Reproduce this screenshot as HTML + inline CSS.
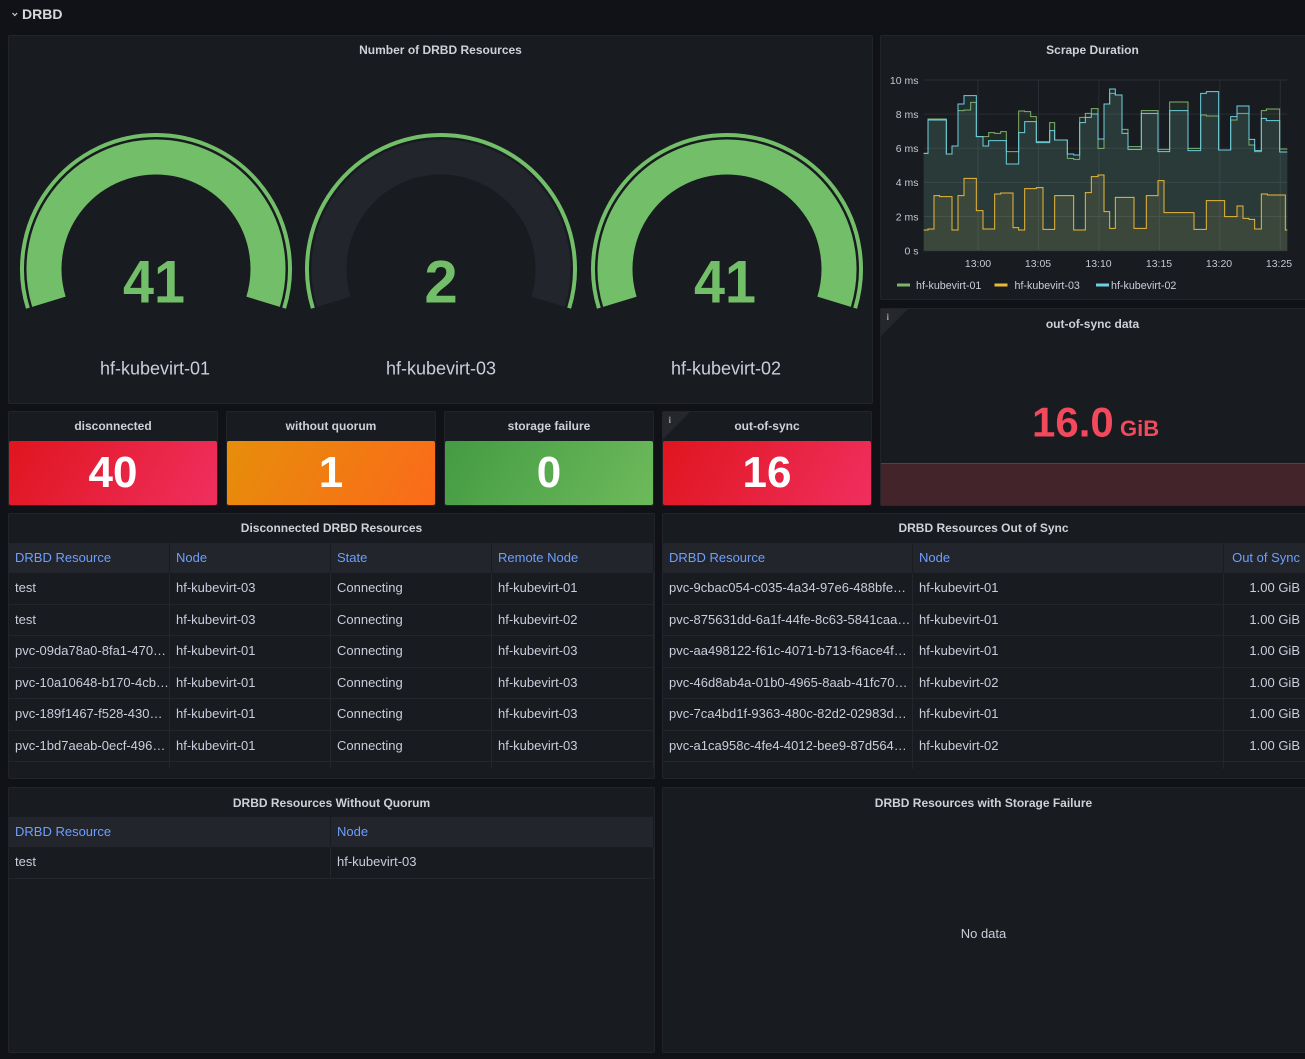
<!DOCTYPE html>
<html><head><meta charset="utf-8">
<style>
*{box-sizing:border-box;margin:0;padding:0}
html,body{width:1305px;height:1059px;overflow:hidden;background:#111217;font-family:"Liberation Sans",sans-serif;color:#ccccdc}
.p{position:absolute;background:#181b1f;border:1px solid #222429;border-radius:2px;overflow:hidden}
.t{position:absolute;left:0;right:0;top:6px;height:16px;line-height:16px;text-align:center;font-size:12px;font-weight:bold;color:#d0d1d8;white-space:nowrap}
.sb{position:absolute;left:0;right:0;top:29px;height:64px;border-radius:2px;color:#fff;font-weight:bold;font-size:44px;line-height:64px;text-align:center}
.tb{position:absolute;left:0;top:29px;right:0}
.h{display:flex;height:30px;background:#22252b}
.h div{color:#6e9fff;font-size:13px;line-height:30px;padding-left:6px;border-right:1px solid #181b1f;white-space:nowrap;overflow:hidden}
.r{display:flex;height:31.5px;border-bottom:1px solid #24262c}
.r div,.e div{font-size:13px;line-height:30.5px;padding-left:6px;border-right:1px solid #24262c;white-space:nowrap;overflow:hidden;text-overflow:ellipsis}
.e{display:flex;height:7px}
.c1{width:161px;flex:none}
.c4{flex:1}
.o1{width:250px;flex:none}
.o2{width:311px;flex:none}
.o3{flex:1;text-align:right;padding-right:8px!important;padding-left:0!important}
.q1{width:322px;flex:none}
svg{position:absolute;left:0;top:0}
</style></head><body>

<!-- Panels -->
<div class="p" style="left:8px;top:35px;width:865px;height:369px"><div class="t">Number of DRBD Resources</div></div>
<div class="p" style="left:880px;top:35px;width:430px;height:265px"><div class="t" style="right:5px">Scrape Duration</div></div>
<div class="p" style="left:880px;top:308px;width:430px;height:198px"><div class="t" style="right:5px;top:7px">out-of-sync data</div></div>

<div class="p" style="left:8px;top:411px;width:210px;height:95px"><div class="t">disconnected</div><div class="sb" style="background:linear-gradient(120deg,#e0151e,#f02f5f)">40</div></div>
<div class="p" style="left:226px;top:411px;width:210px;height:95px"><div class="t">without quorum</div><div class="sb" style="background:linear-gradient(120deg,#e68e0a,#fb6a1a)">1</div></div>
<div class="p" style="left:444px;top:411px;width:210px;height:95px"><div class="t">storage failure</div><div class="sb" style="background:linear-gradient(120deg,#449b43,#6dba5b)">0</div></div>
<div class="p" style="left:662px;top:411px;width:210px;height:95px"><div class="t">out-of-sync</div><div class="sb" style="background:linear-gradient(120deg,#e0151e,#f02f5f)">16</div></div>

<div class="p" style="left:8px;top:513px;width:647px;height:266px"><div class="t">Disconnected DRBD Resources</div>
<div class="tb">
<div class="h"><div class="c1">DRBD Resource</div><div class="c1">Node</div><div class="c1">State</div><div class="c4">Remote Node</div></div>
<div class="r"><div class="c1">test</div><div class="c1">hf-kubevirt-03</div><div class="c1">Connecting</div><div class="c4">hf-kubevirt-01</div></div>
<div class="r"><div class="c1">test</div><div class="c1">hf-kubevirt-03</div><div class="c1">Connecting</div><div class="c4">hf-kubevirt-02</div></div>
<div class="r"><div class="c1">pvc-09da78a0-8fa1-470…</div><div class="c1">hf-kubevirt-01</div><div class="c1">Connecting</div><div class="c4">hf-kubevirt-03</div></div>
<div class="r"><div class="c1">pvc-10a10648-b170-4cb…</div><div class="c1">hf-kubevirt-01</div><div class="c1">Connecting</div><div class="c4">hf-kubevirt-03</div></div>
<div class="r"><div class="c1">pvc-189f1467-f528-4301…</div><div class="c1">hf-kubevirt-01</div><div class="c1">Connecting</div><div class="c4">hf-kubevirt-03</div></div>
<div class="r"><div class="c1">pvc-1bd7aeab-0ecf-496…</div><div class="c1">hf-kubevirt-01</div><div class="c1">Connecting</div><div class="c4">hf-kubevirt-03</div></div>
<div class="e"><div class="c1"></div><div class="c1"></div><div class="c1"></div><div class="c4"></div></div>
</div></div>

<div class="p" style="left:662px;top:513px;width:648px;height:266px"><div class="t" style="right:5px">DRBD Resources Out of Sync</div>
<div class="tb">
<div class="h"><div class="o1">DRBD Resource</div><div class="o2">Node</div><div class="o3">Out of Sync</div></div>
<div class="r"><div class="o1">pvc-9cbac054-c035-4a34-97e6-488bfe9…</div><div class="o2">hf-kubevirt-01</div><div class="o3">1.00 GiB</div></div>
<div class="r"><div class="o1">pvc-875631dd-6a1f-44fe-8c63-5841caa…</div><div class="o2">hf-kubevirt-01</div><div class="o3">1.00 GiB</div></div>
<div class="r"><div class="o1">pvc-aa498122-f61c-4071-b713-f6ace4f0…</div><div class="o2">hf-kubevirt-01</div><div class="o3">1.00 GiB</div></div>
<div class="r"><div class="o1">pvc-46d8ab4a-01b0-4965-8aab-41fc708…</div><div class="o2">hf-kubevirt-02</div><div class="o3">1.00 GiB</div></div>
<div class="r"><div class="o1">pvc-7ca4bd1f-9363-480c-82d2-02983dd…</div><div class="o2">hf-kubevirt-01</div><div class="o3">1.00 GiB</div></div>
<div class="r"><div class="o1">pvc-a1ca958c-4fe4-4012-bee9-87d5641…</div><div class="o2">hf-kubevirt-02</div><div class="o3">1.00 GiB</div></div>
<div class="e"><div class="o1"></div><div class="o2"></div><div class="o3"></div></div>
</div></div>

<div class="p" style="left:8px;top:787px;width:647px;height:266px"><div class="t" style="top:7px">DRBD Resources Without Quorum</div>
<div class="tb" style="top:29px">
<div class="h"><div class="q1">DRBD Resource</div><div class="c4">Node</div></div>
<div class="r"><div class="q1">test</div><div class="c4">hf-kubevirt-03</div></div>
</div></div>

<div class="p" style="left:662px;top:787px;width:648px;height:266px"><div class="t" style="right:5px;top:7px">DRBD Resources with Storage Failure</div>
<div style="position:absolute;left:0;width:646px;top:138px;height:16px;line-height:16px;text-align:center;font-size:13px;color:#ccccdc;padding-right:5px">No data</div>
</div>

<svg width="1305" height="1059" viewBox="0 0 1305 1059" xmlns="http://www.w3.org/2000/svg" font-family="Liberation Sans, sans-serif">
<!-- Row header -->
<polyline points="12.5,13 14.8,15.5 17.1,13" fill="none" stroke="#ccccdc" stroke-width="1.2"/>
<text x="22" y="19" font-size="14" font-weight="bold" fill="#d8d9da">DRBD</text>

<!-- Gauges -->
<g fill="none">
<path d="M27.86,308.18 A134,134 0 1 1 284.14,308.18" stroke="#73bf69" stroke-width="4"/>
<path d="M48.9,301.75 A112,112 0 1 1 263.1,301.75" stroke="#73bf69" stroke-width="35"/>
<path d="M312.86,308.18 A134,134 0 1 1 569.14,308.18" stroke="#73bf69" stroke-width="4"/>
<path d="M333.9,301.75 A112,112 0 1 1 548.1,301.75" stroke="#22252b" stroke-width="35"/>
<path d="M598.86,308.18 A134,134 0 1 1 855.14,308.18" stroke="#73bf69" stroke-width="4"/>
<path d="M619.9,301.75 A112,112 0 1 1 834.1,301.75" stroke="#73bf69" stroke-width="35"/>
</g>
<g font-weight="bold" font-size="60" fill="#73bf69" text-anchor="middle">
<text x="154" y="302.5" textLength="62" lengthAdjust="spacingAndGlyphs">41</text>
<text x="441" y="302.5">2</text>
<text x="725" y="302.5" textLength="62" lengthAdjust="spacingAndGlyphs">41</text>
</g>
<g font-size="18" fill="#ccccdc" text-anchor="middle">
<text x="155" y="374.5">hf-kubevirt-01</text>
<text x="441" y="374.5">hf-kubevirt-03</text>
<text x="726" y="374.5">hf-kubevirt-02</text>
</g>

<!-- Scrape Duration chart -->
<g stroke="#2a2d33" stroke-width="1">
<line x1="923.7" x2="1287.3" y1="80" y2="80"/>
<line x1="923.7" x2="1287.3" y1="114.1" y2="114.1"/>
<line x1="923.7" x2="1287.3" y1="148.3" y2="148.3"/>
<line x1="923.7" x2="1287.3" y1="182.4" y2="182.4"/>
<line x1="923.7" x2="1287.3" y1="216.5" y2="216.5"/>
<line x1="923.7" x2="1287.3" y1="250.7" y2="250.7"/>
<line x1="978" x2="978" y1="80" y2="250.7"/>
<line x1="1038.5" x2="1038.5" y1="80" y2="250.7"/>
<line x1="1098.9" x2="1098.9" y1="80" y2="250.7"/>
<line x1="1159.4" x2="1159.4" y1="80" y2="250.7"/>
<line x1="1219.8" x2="1219.8" y1="80" y2="250.7"/>
<line x1="1280.3" x2="1280.3" y1="80" y2="250.7"/>
</g>
<g font-size="10.5" fill="#c7c8d2" text-anchor="end">
<text x="918.5" y="83.8">10 ms</text>
<text x="918.5" y="117.9">8 ms</text>
<text x="918.5" y="152.1">6 ms</text>
<text x="918.5" y="186.2">4 ms</text>
<text x="918.5" y="220.3">2 ms</text>
<text x="918.5" y="254.5">0 s</text>
</g>
<g font-size="10.5" fill="#c7c8d2" text-anchor="middle">
<text x="978" y="266.8">13:00</text>
<text x="1038" y="266.8">13:05</text>
<text x="1098.5" y="266.8">13:10</text>
<text x="1159" y="266.8">13:15</text>
<text x="1219" y="266.8">13:20</text>
<text x="1279" y="266.8">13:25</text>
</g>
<g transform="translate(878,30) scale(0.333333)">
<path fill="#7eb26d" fill-opacity="0.1" stroke="none" d="M137,370 H150 V267 H205 V372 H222 V348 H240 V242 H258 V240 H278 V217 H295 V320 H332 V308 H350 V310 H368 V305 H385 V365 H422 V243 H440 V245 H458 V260 H475 V335 H515 V278 H530 V330 H568 V385 H587 V388 H605 V262 H622 V250 H640 V236 H660 V355 H678 V222 H695 V190 H712 V195 H732 V298 H750 V350 H790 V242 H840 V358 H875 V216 H930 V355 H968 V255 H985 V258 H1022 V360 H1058 V270 H1077 V250 H1113 V345 H1130 V365 H1150 V242 H1165 V237 H1205 V357 H1228 V662 H137 Z"/>
<path fill="#eab839" fill-opacity="0.1" stroke="none" d="M137,600 H150 V597 H168 V497 H185 V500 H222 V600 H240 V497 H258 V445 H295 V542 H315 V597 H350 V492 H368 V489 H405 V593 H422 V600 H440 V476 H475 V473 H495 V598 H530 V497 H587 V600 H622 V488 H640 V440 H660 V435 H678 V545 H695 V595 H712 V502 H768 V595 H805 V497 H840 V452 H858 V548 H948 V598 H985 V512 H1040 V560 H1077 V528 H1095 V565 H1113 V568 H1130 V597 H1150 V492 H1168 V495 H1222 V600 H1228 V662 H137 Z"/>
<path fill="#6ed0e0" fill-opacity="0.1" stroke="none" d="M137,370 H150 V270 H205 V372 H222 V348 H240 V222 H258 V197 H295 V320 H315 V348 H332 V332 H385 V402 H422 V308 H440 V275 H475 V338 H515 V302 H530 V330 H568 V372 H587 V375 H605 V278 H622 V262 H640 V252 H660 V327 H678 V222 H695 V177 H712 V195 H732 V310 H750 V358 H790 V250 H840 V365 H875 V242 H930 V362 H968 V190 H985 V185 H1022 V360 H1058 V260 H1077 V228 H1113 V328 H1130 V362 H1150 V265 H1165 V272 H1205 V366 H1228 V662 H137 Z"/>
<g fill="none" stroke-width="3">
<path stroke="#7eb26d" d="M137,370 H150 V267 H205 V372 H222 V348 H240 V242 H258 V240 H278 V217 H295 V320 H332 V308 H350 V310 H368 V305 H385 V365 H422 V243 H440 V245 H458 V260 H475 V335 H515 V278 H530 V330 H568 V385 H587 V388 H605 V262 H622 V250 H640 V236 H660 V355 H678 V222 H695 V190 H712 V195 H732 V298 H750 V350 H790 V242 H840 V358 H875 V216 H930 V355 H968 V255 H985 V258 H1022 V360 H1058 V270 H1077 V250 H1113 V345 H1130 V365 H1150 V242 H1165 V237 H1205 V357 H1228"/>
<path stroke="#eab839" d="M137,600 H150 V597 H168 V497 H185 V500 H222 V600 H240 V497 H258 V445 H295 V542 H315 V597 H350 V492 H368 V489 H405 V593 H422 V600 H440 V476 H475 V473 H495 V598 H530 V497 H587 V600 H622 V488 H640 V440 H660 V435 H678 V545 H695 V595 H712 V502 H768 V595 H805 V497 H840 V452 H858 V548 H948 V598 H985 V512 H1040 V560 H1077 V528 H1095 V565 H1113 V568 H1130 V597 H1150 V492 H1168 V495 H1222 V600 H1228"/>
<path stroke="#6ed0e0" d="M137,370 H150 V270 H205 V372 H222 V348 H240 V222 H258 V197 H295 V320 H315 V348 H332 V332 H385 V402 H422 V308 H440 V275 H475 V338 H515 V302 H530 V330 H568 V372 H587 V375 H605 V278 H622 V262 H640 V252 H660 V327 H678 V222 H695 V177 H712 V195 H732 V310 H750 V358 H790 V250 H840 V365 H875 V242 H930 V362 H968 V190 H985 V185 H1022 V360 H1058 V260 H1077 V228 H1113 V328 H1130 V362 H1150 V265 H1165 V272 H1205 V366 H1228"/>
</g>
</g>
<!-- Legend -->
<rect x="897" y="283.5" width="13" height="3" fill="#7eb26d"/>
<rect x="994.5" y="283.5" width="13" height="3" fill="#eab839"/>
<rect x="1096" y="283.5" width="13" height="3" fill="#6ed0e0"/>
<g font-size="10.7" fill="#ccccdc">
<text x="916" y="288.8">hf-kubevirt-01</text>
<text x="1014.5" y="288.8">hf-kubevirt-03</text>
<text x="1111" y="288.8">hf-kubevirt-02</text>
</g>

<!-- out-of-sync data -->
<rect x="881" y="463.5" width="430" height="42" fill="#44242b"/>
<line x1="881" x2="1311" y1="463.5" y2="463.5" stroke="#7a2f3b" stroke-width="1"/>
<text x="1032" y="436.5" font-size="42" font-weight="bold" fill="#f2495c">16.0</text>
<text x="1120" y="436" font-size="22" font-weight="bold" fill="#f2495c">GiB</text>

<!-- info corners -->
<polygon points="881,309 908,309 881,336" fill="#25272d"/>
<text x="886.5" y="320" font-size="9" font-family="Liberation Serif, serif" font-weight="bold" fill="#a0a1a8">i</text>
<polygon points="663,412 690,412 663,439" fill="#25272d"/>
<text x="668.5" y="423" font-size="9" font-family="Liberation Serif, serif" font-weight="bold" fill="#a0a1a8">i</text>
</svg>
</body></html>
